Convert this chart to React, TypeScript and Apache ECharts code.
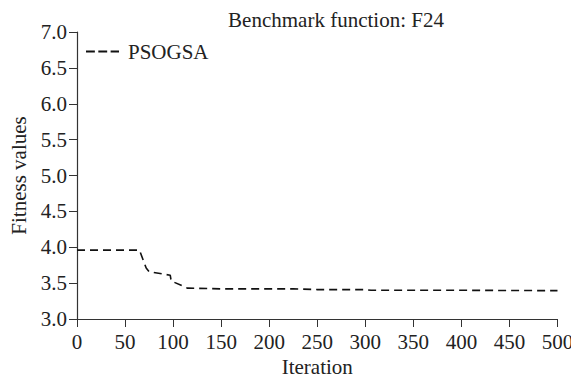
import React, { useEffect, useRef } from "react";
import * as echarts from "echarts";

const titleText = "Benchmark function: F24";
const seriesName = "PSOGSA";
const iterations = [0, 65, 72, 75, 97, 98, 115, 150, 225, 250, 300, 306, 400, 500];
const fitness = [3.96, 3.96, 3.71, 3.66, 3.61, 3.53, 3.43, 3.42, 3.42, 3.41, 3.41, 3.40, 3.40, 3.395];
const xTicks = { min: 0, max: 500, interval: 50 };
const yTicks = { min: 3, max: 7, interval: 0.5 };

const FONT = "Liberation Serif";
const FS = 21;

export default function App() {
  const ref = useRef<HTMLDivElement>(null);
  useEffect(() => {
    if (!ref.current) return;
    const chart = echarts.init(ref.current, undefined, { renderer: "svg" });
    const data = iterations.map((x, i) => [x, fitness[i]]);
    chart.setOption({
      animation: false,
      backgroundColor: "#ffffff",
      textStyle: { fontFamily: FONT, color: "#222" },
      title: {
        text: titleText,
        left: 331,
        top: 4,
        textAlign: "center",
        textStyle: { fontFamily: FONT, fontSize: FS, fontWeight: "normal", color: "#222" },
      },
      legend: {
        data: [
          {
            name: seriesName,
            icon: "path://M0,0h9v2h-9z M12.5,0h9v2h-9z M25,0h8.5v2h-8.5z",
          },
        ],
        left: 81,
        top: 36,
        itemWidth: 33,
        itemHeight: 2,
        itemStyle: { color: "#111" },
        textStyle: { fontFamily: FONT, fontSize: FS, color: "#222", padding: [0, 0, 0, 4] },
      },
      grid: {
        left: 77,
        right: 21.5,
        top: 32,
        bottom: 59,
        containLabel: false,
        outerBoundsMode: "none",
      },
      xAxis: {
        type: "value",
        min: xTicks.min,
        max: xTicks.max,
        interval: xTicks.interval,
        name: "Iteration",
        nameLocation: "middle",
        nameGap: 34,
        nameTextStyle: { fontFamily: FONT, fontSize: FS, color: "#222" },
        axisLine: { show: true, lineStyle: { color: "#333", width: 1.2 } },
        axisTick: { show: true, length: 8, lineStyle: { color: "#333" } },
        axisLabel: { margin: 12, fontFamily: FONT, fontSize: FS, color: "#222" },
        splitLine: { show: false },
      },
      yAxis: {
        type: "value",
        min: yTicks.min,
        max: yTicks.max,
        interval: yTicks.interval,
        name: "Fitness values",
        nameLocation: "middle",
        nameGap: 47,
        nameTextStyle: { fontFamily: FONT, fontSize: FS, color: "#222" },
        axisLine: { show: true, lineStyle: { color: "#333", width: 1.2 } },
        axisTick: { show: true, length: 8, lineStyle: { color: "#333" } },
        axisLabel: {
          margin: 10,
          fontFamily: FONT,
          fontSize: FS,
          color: "#222",
          formatter: (v: number) => v.toFixed(1),
        },
        splitLine: { show: false },
      },
      series: [
        {
          name: seriesName,
          type: "line",
          data,
          symbol: "none",
          showSymbol: false,
          lineStyle: { color: "#111", width: 1.6, type: [8, 5] },
          itemStyle: { color: "#111" },
        },
      ],
    });
    return () => chart.dispose();
  }, []);
  return <div ref={ref} style={{ width: 579, height: 378, marginLeft: -8, marginTop: -8 }} />;
}
